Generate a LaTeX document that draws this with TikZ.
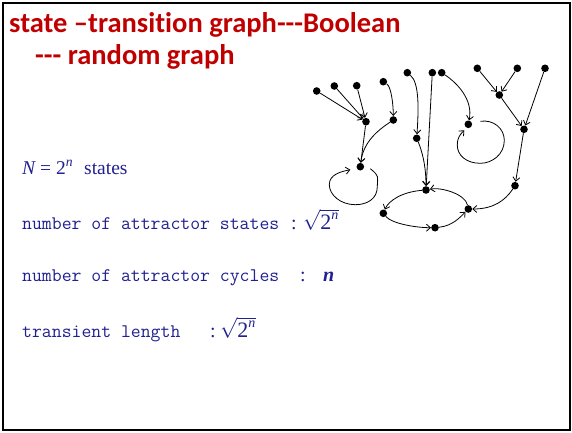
\documentclass[tikz,border=0pt]{standalone}
\usepackage{fontspec}
\setmainfont{Liberation Serif}
\newfontfamily\titlefont[Ligatures={NoCommon,NoContextual}]{Carlito}
\usetikzlibrary{arrows.meta}
\definecolor{titlered}{RGB}{192,0,0}
\definecolor{textblue}{RGB}{32,32,144}
\newcommand{\sqtwon}{$\sqrt{\mbox{\fontsize{22}{24}\selectfont 2}^{\mbox{\fontsize{14}{15}\selectfont\itshape n}}}$}
\begin{document}
\begin{tikzpicture}[x=1pt,y=-1pt,
  dot/.style={circle,fill=black,inner sep=0pt,minimum size=7.6pt},
  arr/.style={line width=0.8pt,-{Straight Barb[length=4pt,width=7pt]}},
  ttl/.style={anchor=base west,inner sep=0pt,text=titlered,font=\titlefont\bfseries\fontsize{28.5}{30}\selectfont},
  mono/.style={anchor=base west,inner sep=0pt,text=textblue,font=\ttfamily\fontsize{19.2}{22}\selectfont},
  ser/.style={anchor=base west,inner sep=0pt,text=textblue,font=\fontsize{19.5}{22}\selectfont},
  colon/.style={anchor=base,inner sep=0pt,text=textblue,font=\fontsize{20}{22}\selectfont}]
\useasboundingbox (0,0) rectangle (572,433);
\draw[line width=2.5pt] (3,3) rectangle (570,430);

% title
\node[ttl] (t1) at (9,33) {state –transition graph---Boolean};
\node[ttl] (t2) at (35,65) {--- random graph};

% text lines
\node[ser] (l1a) at (22,174) {\textit{N}\hspace{4pt}=\hspace{5pt}2\textsuperscript{\textit{n}}};
\node[ser] (l1b) at (84,174) {states};

\node[mono] (l2) at (22,229) {number of attractor states};
\node[colon] (c2) at (294,229) {:};
\node[ser] (s2) at (303,229) {\color{textblue}\sqtwon};

\node[mono] (l3) at (22,281) {number of attractor cycles};
\node[colon] (c3) at (303,281) {:};
\node[ser] (n3) at (323,281) {\fontsize{20}{22}\selectfont\bfseries\itshape n};

\node[mono] (l4) at (22,337) {transient length};
\node[colon] (c4) at (213,337) {:};
\node[ser] (s4) at (220,337) {\color{textblue}\sqtwon};

% graph nodes
\node[dot] (a1) at (316.7,91) {};
\node[dot] (a2) at (334.3,86) {};
\node[dot] (a3) at (356.7,85.7) {};
\node[dot] (a4) at (383.3,81.7) {};
\node[dot] (b1) at (366,121.7) {};
\node[dot] (b2) at (393.3,120) {};
\node[dot] (c) at (360.3,166.7) {};
\node[dot] (d1) at (407.3,72.7) {};
\node[dot] (d2) at (432.3,72.7) {};
\node[dot] (d3) at (441.7,72.7) {};
\node[dot] (e) at (416.7,138.3) {};
\node[dot] (f) at (468.3,124.3) {};
\node[dot] (g1) at (477.3,68.3) {};
\node[dot] (g2) at (517.3,68.3) {};
\node[dot] (g3) at (545,68.3) {};
\node[dot] (h) at (499.3,95) {};
\node[dot] (i) at (524,129.3) {};
\node[dot] (j) at (515,185.7) {};
\node[dot] (k) at (426,190) {};
\node[dot] (l) at (383.3,213.3) {};
\node[dot] (m) at (435,227.7) {};
\node[dot] (n) at (468.3,209) {};

% edges
\draw[arr] (a1) -- (b1);
\draw[arr] (a2) -- (b1);
\draw[arr] (a3) -- (b1);
\draw[arr] (a4) .. controls +(8,5) and +(0,-15) .. (b2);
\draw[arr] (b1) -- (c);
\draw[arr] (b2) .. controls +(-15,10) and +(3,-25) .. (c);
\draw[arr] ([shift={(10,2)}]c.center) .. controls +(10,8) and +(0,-10) .. ([shift={(17,20)}]c.center)
  .. controls +(0,12) and +(12,0) .. ([shift={(-5,38)}]c.center)
  .. controls +(-15,0) and +(0,10) .. ([shift={(-31,18)}]c.center)
  .. controls +(0,-10) and +(-10,2) .. ([shift={(-10,3)}]c.center);

\draw[arr] (d1) .. controls +(12,10) and +(2,-30) .. (e);
\draw[arr] (e) .. controls +(5,12) and +(0,-25) .. (k);
\draw[arr] (d2) -- (k);
\draw[arr] (d3) .. controls +(15,10) and +(5,-25) .. (f);
\draw[arr] ([shift={(12,-3)}]f.center) .. controls +(13,-2) and +(0,-12) .. ([shift={(36,16)}]f.center)
  .. controls +(0,14) and +(12,0) .. ([shift={(12,39)}]f.center)
  .. controls +(-14,0) and +(0,10) .. ([shift={(-11,21)}]f.center)
  .. controls +(0,-8) and +(-4,4) .. ([shift={(-4,6)}]f.center);

\draw[arr] (g1) -- (h);
\draw[arr] (g2) -- (h);
\draw[arr] (h) -- (i);
\draw[arr] (g3) -- (i);
\draw[arr] (i) -- (j);
\draw[arr] (j) .. controls +(-10,15) and +(25,0) .. (n);
\draw[arr] (n) .. controls +(-3,-15) and +(15,-3) .. (k);
\draw[arr] (k) .. controls +(-25,2) and +(5,-12) .. (l);
\draw[arr] (l) .. controls +(8,10) and +(-20,0) .. (m);
\draw[arr] (m) .. controls +(18,-2) and +(-8,8) .. (n);
\end{tikzpicture}
\end{document}
